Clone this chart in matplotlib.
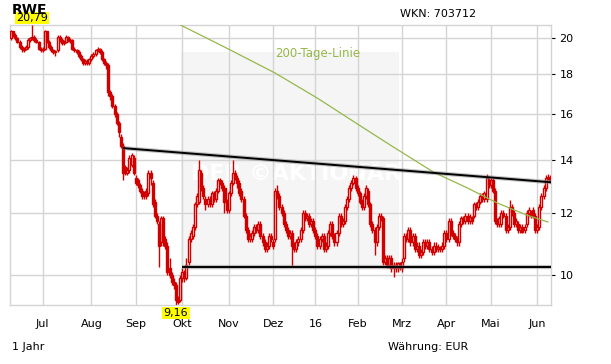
import numpy as np
import pandas as pd
import matplotlib
matplotlib.use("Agg")
import matplotlib.pyplot as plt
from matplotlib.patches import Rectangle

# trading calendar (Xetra holidays removed)
holidays = ["2015-12-24", "2015-12-25", "2015-12-31", "2016-01-01", "2016-03-25", "2016-03-28"]
days = pd.bdate_range("2015-06-10", "2016-06-09")
days = days[~days.isin(pd.to_datetime(holidays))]

month_labels = ["Jul", "Aug", "Sep", "Okt", "Nov", "Dez", "16", "Feb", "Mrz", "Apr", "Mai", "Jun"]
month_keys = ["2015-07", "2015-08", "2015-09", "2015-10", "2015-11", "2015-12",
              "2016-01", "2016-02", "2016-03", "2016-04", "2016-05", "2016-06"]

# daily candles
opens = [20.0, 20.4, 20.2, 20.0, 19.8, 19.5, 19.4, 19.4, 19.5, 19.9,
         20.0, 20.1, 19.9, 19.8, 19.4, 19.3, 19.4, 20.4, 19.8, 19.5,
         19.3, 19.2, 19.3, 20.1, 19.9, 19.7, 19.8, 20.1, 19.85, 19.9,
         19.4, 19.3, 19.2, 19.0, 18.8, 18.6, 18.7, 18.6, 18.8, 19.0,
         19.1, 19.3, 19.4, 19.2, 18.8, 18.6, 18.5, 17.1, 16.9, 16.4,
         16.0, 15.6, 15.0, 14.6, 13.7, 13.5, 13.6, 13.8, 14.1, 13.3,
         13.2, 13.0, 12.8, 12.7, 12.8, 12.7, 13.5, 13.1, 12.4, 11.9,
         11.6, 11.0, 11.8, 11.1, 10.9, 10.2, 10.0, 9.8, 9.7, 9.3,
         9.3, 9.9, 10.1, 9.9, 10.4, 11.1, 11.2, 11.5, 12.3, 12.4,
         13.5, 12.9, 12.5, 12.3, 12.5, 12.3, 12.7, 12.5, 12.8, 13.2,
         13.1, 12.9, 12.4, 12.1, 12.7, 13.1, 13.5, 13.3, 13.1, 12.8,
         12.5, 11.9, 11.4, 11.1, 11.1, 11.3, 11.5, 11.4, 11.6, 11.2,
         11.0, 10.8, 10.9, 11.2, 11.0, 11.1, 12.8, 12.6, 12.2, 12.0,
         11.6, 11.4, 11.2, 11.3, 10.9, 10.8, 11.0, 11.1, 11.4, 12.0,
         11.8, 11.9, 11.6, 11.7, 11.4, 11.2, 10.9, 11.1, 11.2, 10.8,
         10.9, 11.3, 11.6, 11.2, 11.0, 11.3, 11.9, 11.6, 11.7, 12.2,
         12.5, 12.9, 13.1, 13.3, 12.9, 12.7, 12.4, 12.2, 12.6, 12.8,
         12.3, 11.6, 11.4, 11.0, 11.5, 11.9, 11.8, 10.4, 10.5, 10.3,
         10.5, 10.2, 10.3, 10.2, 10.35, 10.2, 10.5, 11.2, 11.1, 11.4,
         11.0, 11.2, 10.8, 10.9, 10.6, 10.7, 11.0, 10.9, 11.0, 10.8,
         10.7, 10.9, 10.8, 10.85, 10.8, 10.9, 11.3, 11.1, 11.7, 11.3,
         11.2, 11.1, 11.0, 11.6, 11.8, 11.7, 11.9, 11.7, 11.85, 11.9,
         12.3, 12.2, 12.4, 12.6, 12.5, 12.5, 13.2, 13.0, 13.2, 12.8,
         11.7, 11.6, 11.6, 12.0, 11.9, 11.4, 11.5, 12.2, 12.0, 11.6,
         11.6, 11.4, 11.5, 11.4, 11.6, 12.0, 12.0, 12.1, 11.9, 11.4,
         11.5, 12.2, 12.6, 12.9, 13.3, 13.3]
closes = [20.4, 20.2, 20.0, 19.8, 19.5, 19.4, 19.35, 19.5, 19.9, 20.0,
          20.1, 19.9, 19.8, 19.4, 19.3, 19.4, 20.4, 19.8, 19.5, 19.3,
          19.2, 19.25, 20.1, 19.9, 19.7, 19.8, 20.1, 19.9, 19.9, 19.4,
          19.3, 19.2, 19.0, 18.8, 18.6, 18.7, 18.6, 18.8, 19.0, 19.1,
          19.3, 19.4, 19.2, 18.8, 18.6, 18.5, 17.1, 16.9, 16.4, 16.0,
          15.6, 15.2, 14.6, 13.5, 13.5, 13.6, 14.1, 14.2, 13.5, 13.1,
          13.0, 12.8, 12.6, 12.6, 12.6, 13.5, 13.3, 12.3, 11.9, 11.7,
          10.9, 11.8, 11.0, 10.9, 10.1, 10.0, 9.8, 9.7, 9.3, 9.25,
          9.9, 10.1, 9.9, 10.3, 11.1, 11.3, 11.5, 12.3, 12.6, 13.6,
          12.9, 12.6, 12.3, 12.5, 12.4, 12.7, 12.5, 12.8, 13.2, 13.1,
          12.9, 12.4, 12.1, 12.7, 13.1, 13.5, 13.3, 13.1, 12.7, 12.5,
          11.9, 11.4, 11.1, 11.2, 11.3, 11.5, 11.4, 11.6, 11.2, 11.0,
          10.8, 10.9, 11.2, 11.1, 10.9, 12.8, 12.6, 12.2, 12.0, 11.6,
          11.4, 11.2, 11.3, 10.9, 10.8, 11.0, 11.1, 11.4, 12.0, 11.8,
          11.9, 11.6, 11.7, 11.4, 11.2, 10.9, 11.1, 11.2, 10.8, 10.9,
          11.3, 11.6, 11.2, 11.0, 11.3, 11.9, 11.6, 11.7, 12.2, 12.5,
          12.9, 13.1, 13.3, 12.9, 12.7, 12.4, 12.2, 12.6, 12.9, 12.3,
          11.6, 11.4, 11.0, 11.5, 11.9, 11.8, 10.4, 10.5, 10.3, 10.5,
          10.2, 10.3, 10.2, 10.35, 10.25, 10.4, 11.2, 11.1, 11.4, 11.0,
          11.2, 10.8, 10.9, 10.6, 10.7, 11.0, 10.9, 11.0, 10.8, 10.7,
          10.9, 10.8, 10.85, 10.8, 10.9, 11.3, 11.1, 11.7, 11.3, 11.2,
          11.1, 11.0, 11.6, 11.8, 11.7, 11.9, 11.7, 11.85, 11.7, 12.3,
          12.2, 12.4, 12.6, 12.5, 12.7, 13.3, 13.0, 13.2, 12.8, 11.7,
          11.6, 11.8, 12.0, 11.9, 11.4, 11.5, 12.2, 12.0, 11.6, 11.7,
          11.4, 11.5, 11.35, 11.5, 12.0, 12.1, 11.9, 11.9, 11.4, 11.5,
          12.2, 12.6, 12.9, 13.3, 13.3, 13.2]
highs = [20.5, 20.45, 20.3, 20.1, 19.9, 19.6, 19.5, 19.6, 20.0, 20.1,
         20.79, 20.2, 20.0, 19.85, 19.5, 19.5, 20.5, 20.45, 19.9, 19.6,
         19.4, 19.3, 20.2, 20.2, 20.0, 19.9, 20.2, 20.15, 20.0, 19.95,
         19.5, 19.4, 19.3, 19.1, 18.9, 18.8, 18.8, 18.9, 19.1, 19.2,
         19.4, 19.5, 19.45, 19.3, 18.9, 18.7, 18.6, 17.2, 17.0, 16.5,
         16.1, 15.7, 15.1, 14.7, 13.8, 13.7, 14.2, 14.3, 14.2, 13.4,
         13.3, 13.1, 12.9, 12.8, 12.9, 13.6, 13.6, 13.2, 12.5, 12.0,
         11.7, 11.9, 11.9, 11.2, 11.0, 10.5, 10.1, 9.9, 9.8, 9.4,
         10.0, 10.2, 10.15, 10.5, 11.2, 11.4, 11.6, 12.4, 12.7, 14.0,
         13.6, 13.0, 12.6, 12.6, 12.6, 12.8, 12.8, 12.9, 13.3, 13.3,
         13.2, 13.0, 12.5, 12.8, 13.2, 14.0, 13.6, 13.4, 13.2, 12.9,
         12.6, 12.0, 11.5, 11.3, 11.4, 11.6, 11.6, 11.7, 11.7, 11.3,
         11.1, 11.0, 11.3, 11.3, 11.1, 12.9, 13.0, 12.7, 12.3, 12.1,
         11.7, 11.5, 11.4, 11.4, 11.0, 11.1, 11.2, 11.5, 12.1, 12.1,
         12.0, 12.0, 11.8, 11.8, 11.5, 11.3, 11.2, 11.3, 11.3, 11.0,
         11.4, 11.7, 11.7, 11.3, 11.4, 12.0, 12.0, 11.8, 12.3, 12.6,
         13.0, 13.2, 13.4, 13.35, 13.0, 12.8, 12.5, 12.7, 13.0, 12.9,
         12.4, 11.7, 11.5, 11.6, 12.0, 12.0, 11.9, 10.6, 10.6, 10.6,
         10.6, 10.4, 10.4, 10.4, 10.4, 10.5, 11.3, 11.3, 11.5, 11.5,
         11.3, 11.3, 11.0, 11.0, 10.8, 11.1, 11.1, 11.1, 11.1, 10.9,
         11.0, 11.0, 10.95, 10.9, 11.0, 11.4, 11.4, 11.8, 11.8, 11.4,
         11.3, 11.2, 11.7, 11.9, 11.9, 12.0, 12.0, 11.95, 11.9, 12.4,
         12.4, 12.5, 12.7, 12.7, 12.8, 13.45, 13.3, 13.3, 13.3, 12.9,
         11.8, 11.9, 12.1, 12.1, 12.0, 11.6, 12.45, 12.3, 12.1, 11.8,
         11.7, 11.6, 11.6, 11.6, 12.1, 12.2, 12.1, 12.2, 12.0, 11.6,
         12.3, 12.7, 13.0, 13.4, 13.45, 13.4]
lows = [19.9, 20.1, 19.9, 19.7, 19.4, 19.2, 19.2, 19.3, 19.4, 19.8,
        19.9, 19.8, 19.7, 19.3, 19.2, 19.2, 19.3, 19.7, 19.4, 19.2,
        19.1, 19.0, 19.2, 19.8, 19.6, 19.6, 19.7, 19.8, 19.7, 19.3,
        19.2, 19.1, 18.9, 18.7, 18.5, 18.5, 18.5, 18.5, 18.7, 18.9,
        19.0, 19.2, 19.1, 18.7, 18.5, 18.3, 16.9, 16.7, 16.3, 15.9,
        15.5, 15.0, 14.5, 13.2, 13.4, 13.4, 13.5, 13.7, 13.4, 13.0,
        12.9, 12.7, 12.5, 12.5, 12.5, 12.6, 13.0, 12.2, 11.8, 11.6,
        10.25, 10.9, 10.9, 10.8, 10.0, 9.9, 9.7, 9.6, 9.16, 9.2,
        9.25, 9.8, 9.8, 9.85, 10.3, 11.0, 11.1, 11.4, 12.2, 12.3,
        12.8, 12.5, 12.1, 12.2, 12.2, 12.2, 12.4, 12.4, 12.7, 13.0,
        12.8, 12.0, 12.0, 12.0, 12.6, 13.0, 13.2, 12.9, 12.6, 12.4,
        11.8, 11.3, 11.0, 11.0, 11.0, 11.2, 11.3, 11.3, 11.1, 10.9,
        10.7, 10.7, 10.8, 11.0, 10.8, 11.0, 12.5, 12.1, 11.9, 11.5,
        11.3, 11.1, 11.1, 10.25, 10.7, 10.7, 10.9, 11.0, 11.3, 11.7,
        11.7, 11.5, 11.5, 11.3, 11.1, 10.8, 10.8, 11.0, 10.7, 10.7,
        10.8, 11.2, 11.1, 10.9, 10.9, 11.2, 11.5, 11.5, 11.6, 12.1,
        12.4, 12.8, 13.0, 12.8, 12.6, 12.3, 12.1, 12.1, 12.5, 12.2,
        11.5, 11.3, 10.6, 10.9, 11.4, 11.7, 10.3, 10.3, 10.2, 10.2,
        10.1, 9.95, 10.1, 10.1, 10.15, 10.1, 10.4, 11.0, 11.0, 10.9,
        10.9, 10.7, 10.7, 10.5, 10.5, 10.6, 10.8, 10.8, 10.7, 10.6,
        10.6, 10.7, 10.7, 10.7, 10.7, 10.8, 11.0, 11.0, 11.2, 11.1,
        11.0, 10.9, 10.9, 11.5, 11.6, 11.6, 11.6, 11.6, 11.6, 11.8,
        12.1, 12.1, 12.3, 12.4, 12.4, 12.4, 12.9, 12.9, 12.7, 11.6,
        11.5, 11.5, 11.5, 11.8, 11.3, 11.3, 11.4, 11.9, 11.5, 11.5,
        11.3, 11.3, 11.3, 11.3, 11.5, 11.9, 11.8, 11.8, 11.3, 11.3,
        11.4, 12.1, 12.5, 12.8, 13.2, 13.1]

# 200-Tage-Linie, sampled along the drawn line (index, value)
sma_idx = [76, 80, 103, 125, 145, 167, 181, 200, 216, 230, 244, 254]
sma_val = [21.2, 20.8, 19.37, 18.06, 16.78, 15.37, 14.54, 13.51, 12.90, 12.35, 11.92, 11.68]

# trend lines (index, value)
res_x = [53, 255.5]
res_y = [14.50, 13.12]
sup_x = [81, 255.5]
sup_y = [10.24, 10.24]

y_ticks = [10, 12, 14, 16, 18, 20]
y_min, y_max = 9.16, 20.79

red = "#d00000"
grid = "#d4d4d4"

fig = plt.figure(figsize=(6.11, 3.64), dpi=100)
W, H = 611, 364
ax = fig.add_axes([10 / W, 1 - 305 / H, 541 / W, 280 / H])

x = np.arange(len(closes))
o = np.array(opens)
c = np.array(closes)
up = c >= o

# watermark box behind the chart
ax.add_patch(Rectangle((80.5, 10.15), 103, 9.05, facecolor="#f5f5f5", edgecolor="none", zorder=0))
ax.text(135, 13.45, "DER ©AKTIONÄR", color="white", fontsize=16, fontweight="bold",
        ha="center", va="center", zorder=0.5)

ax.vlines(x, lows, highs, color=red, linewidth=1.0, zorder=3)
bot = np.minimum(o, c)
hgt = np.maximum(np.abs(c - o), 0.03)
ax.bar(x[up], hgt[up], bottom=bot[up], width=0.95, facecolor="white", edgecolor=red, linewidth=1.0, zorder=4)
ax.bar(x[~up], hgt[~up], bottom=bot[~up], width=0.95, facecolor=red, edgecolor=red, linewidth=1.0, zorder=4)

ax.plot(sma_idx, sma_val, color="#95b84a", linewidth=0.9, zorder=5)

for lx, ly in [(res_x, res_y), (sup_x, sup_y)]:
    ax.plot(lx, ly, color="#888888", linewidth=3.0, alpha=0.5, zorder=6, solid_capstyle="butt")
    ax.plot(lx, ly, color="black", linewidth=1.4, zorder=6, solid_capstyle="butt")

ax.set_yscale("log")
ax.set_ylim(y_min, y_max)
ax.set_xlim(-0.5, len(closes) - 0.5)

ax.yaxis.tick_right()
ax.set_yticks(y_ticks)
ax.set_yticklabels([str(t) for t in y_ticks])
ax.yaxis.set_minor_locator(matplotlib.ticker.NullLocator())
ax.tick_params(axis="y", length=3, width=0.8, color="black", pad=3, labelsize=8)

tick_pos = [int(np.argmax(days.strftime("%Y-%m") == k)) for k in month_keys]
ax.set_xticks(tick_pos)
ax.set_xticklabels(month_labels)
ax.tick_params(axis="x", length=0, pad=10, labelsize=8)

ax.grid(True, color=grid, linewidth=1.0, zorder=1)
ax.set_axisbelow(True)
for s in ax.spines.values():
    s.set_color(grid)
    s.set_linewidth(1.0)

# text around the chart
fig.text(12 / W, 1 - 10 / H, "RWE", fontsize=10, fontweight="bold", va="center", ha="left")
ax.annotate("20,79", xy=(10, y_max), xytext=(0, 7), textcoords="offset pixels",
            ha="center", va="center", fontsize=8,
            bbox=dict(boxstyle="square,pad=0.12", facecolor="#ffff00", edgecolor="none"))
ax.annotate("9,16", xy=(78, y_min), xytext=(0, -8), textcoords="offset pixels",
            ha="center", va="center", fontsize=8,
            bbox=dict(boxstyle="square,pad=0.12", facecolor="#ffff00", edgecolor="none"))
fig.text(400 / W, 1 - 14 / H, "WKN: 703712", fontsize=8, va="center", ha="left")
fig.text(275 / W, 1 - 53 / H, "200-Tage-Linie", fontsize=8.5, color="#95b84a", va="center", ha="left")
fig.text(12 / W, 1 - 347 / H, "1 Jahr", fontsize=8, va="center", ha="left")
fig.text(388 / W, 1 - 347 / H, "Währung: EUR", fontsize=8, va="center", ha="left")

fig.savefig("out.png", dpi=100)
